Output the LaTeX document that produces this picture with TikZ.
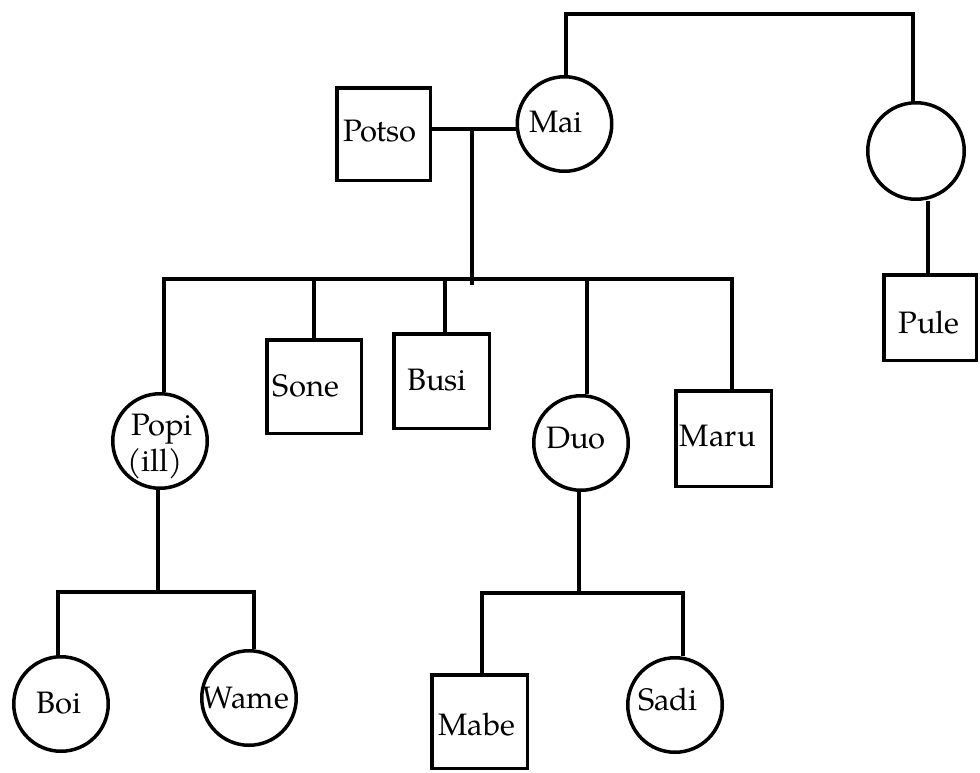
\documentclass[tikz,border=0pt]{standalone}
\usepackage{fontspec}
\setmainfont{TeX Gyre Pagella}
\begin{document}
\begin{tikzpicture}[x=1pt,y=-1pt,
  female/.style={circle, draw, line width=3.5pt, minimum size=94.5pt, inner sep=0pt},
  male/.style={rectangle, draw, line width=3.5pt, inner sep=0pt},
  who/.style={anchor=base, inner sep=0pt, font=\fontsize{31}{34}\selectfont},
  link/.style={line width=3.5pt}]
\useasboundingbox (0,0) rectangle (980,772);

% ---- people ----
\node[female] (mai) at (564.5,124) {};
\node[female, minimum size=96.5pt] (aunt) at (916,151) {};
\node[male, minimum width=92.5pt, minimum height=85.5pt] (pule) at (930,317.5) {};
\node[male, minimum width=93.5pt, minimum height=92.5pt] (potso) at (383.5,134) {};

\node[female] (popi) at (160,441) {};
\node[male, minimum width=94.5pt, minimum height=93.5pt] (sone) at (314,386.5) {};
\node[male, minimum width=95.5pt, minimum height=94.5pt] (busi) at (441.5,381) {};
\node[female] (duo) at (581,443) {};
\node[male, minimum width=95.5pt, minimum height=95.5pt] (maru) at (723.5,438.5) {};

\node[female] (boi) at (61,704) {};
\node[female] (wame) at (249,698) {};
\node[male, minimum width=95.5pt, minimum height=93.5pt] (mabe) at (479.5,721.5) {};
\node[female] (sadi) at (675,705) {};

% ---- names ----
\node[who] (mai-t)   at (556,132) {Mai};
\node[who] (potso-t) at (380,141) {Potso};
\node[who] (pule-t)  at (929,333) {Pule};
\node[who] (popi-t)  at (162,435) {Popi};
\node[who] (ill-t)   at (155,471) {(ill)};
\node[who] (sone-t)  at (306,396) {Sone};
\node[who] (busi-t)  at (437,390) {Busi};
\node[who] (duo-t)   at (576,448) {Duo};
\node[who] (maru-t)  at (718,446) {Maru};
\node[who] (boi-t)   at (59,713)  {Boi};
\node[who] (wame-t)  at (246,708) {Wame};
\node[who] (mabe-t)  at (477,735) {Mabe};
\node[who] (sadi-t)  at (668,710) {Sadi};

% ---- sibship of Mai ----
\coordinate (topL) at (566,14);
\coordinate (topR) at (913,14);
\draw[link] (mai.north -| topL) -- (topL) -- (topR) -- (topR |- aunt.north);

% ---- aunt to Pule ----
\coordinate (pl) at (928,0);
\draw[link] (pl |- aunt.south) -- (pl |- pule.north);

% ---- marriage and descent ----
\coordinate (desc) at (472,129);
\coordinate (descEnd) at (472,285);
\draw[link] (potso.east |- desc) -- (mai.west |- desc);
\draw[link] (desc) -- (descEnd);

% ---- children of Potso and Mai ----
\coordinate (sibL) at (164,279);
\coordinate (sibR) at (732,279);
\coordinate (soneUp) at (314,279);
\coordinate (busiUp) at (445,279);
\coordinate (duoUp) at (587,279);
\draw[link] (sibL |- popi.north) -- (sibL) -- (sibR) -- (sibR |- maru.north);
\draw[link] (soneUp) -- (soneUp |- sone.north);
\draw[link] (busiUp) -- (busiUp |- busi.north);
\draw[link] (duoUp) -- (duoUp |- duo.north);

% ---- children of Popi ----
\coordinate (pk) at (158,592);
\coordinate (pkL) at (58,592);
\coordinate (pkR) at (254,592);
\draw[link] (pk |- popi.south) -- (pk);
\draw[link] (pkL |- boi.north) -- (pkL) -- (pkR) -- (pkR |- wame.north);

% ---- children of Duo ----
\coordinate (dk) at (579,593);
\coordinate (dkL) at (482,593);
\coordinate (dkR) at (683,593);
\draw[link] (dk |- duo.south) -- (dk);
\draw[link] (dkL |- mabe.north) -- (dkL) -- (dkR) -- (dkR |- sadi.north);
\end{tikzpicture}
\end{document}
